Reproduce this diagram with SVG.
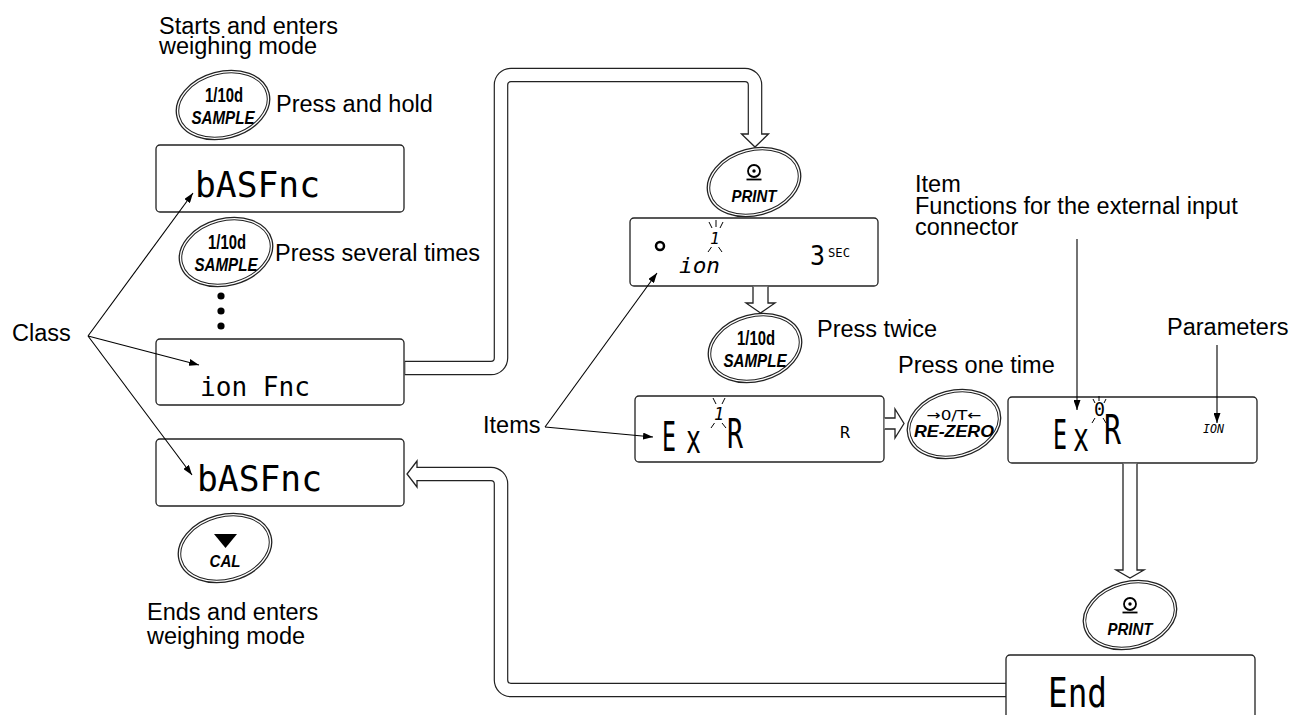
<svg xmlns="http://www.w3.org/2000/svg" width="1292" height="715" viewBox="0 0 1292 715">
<defs>
<style>
.t{font-family:"Liberation Sans",Arial,sans-serif;font-size:23.5px;fill:#000}
.b1{font-family:"Liberation Sans",Arial,sans-serif;font-size:19.5px;font-weight:bold;fill:#000}
.b2{font-family:"Liberation Sans",Arial,sans-serif;font-size:17px;font-weight:bold;font-style:italic;fill:#000}
.b4{font-family:"Liberation Sans",Arial,sans-serif;font-size:19px;font-weight:bold;font-style:italic;fill:#000}
.b3{font-family:"DejaVu Sans",sans-serif;font-size:14px;fill:#000}
.seg{font-family:"DejaVu Sans Mono",monospace;fill:#000}
.box{fill:#fff;stroke:#222;stroke-width:1.3}
.eo{fill:#fff;stroke:#222;stroke-width:1.3}
.ei{fill:none;stroke:#222;stroke-width:1}
.ln{fill:none;stroke:#000;stroke-width:1.1}
.pk{fill:none;stroke:#222;stroke-width:14.6}
.pw{fill:none;stroke:#fff;stroke-width:12.2}
.hd{fill:#fff;stroke:#222;stroke-width:1.3;stroke-linejoin:miter}
.ray{stroke:#000;stroke-width:1}
</style>
<marker id="ah" viewBox="0 0 10 7" refX="10" refY="3.5" markerWidth="10" markerHeight="7" markerUnits="userSpaceOnUse" orient="auto">
<path d="M0,0 L10,3.5 L0,7 z" fill="#000"/>
</marker>
<g id="btnshape" transform="rotate(-15)">
<ellipse rx="47.5" ry="33.5" class="eo"/>
<ellipse rx="45" ry="31" class="ei"/>
</g>
</defs>
<rect width="1292" height="715" fill="#fff"/>

<g id="labels">
<text class="t" x="159" y="34">Starts and enters</text>
<text class="t" x="159" y="54">weighing mode</text>
<text class="t" x="276" y="112">Press and hold</text>
<text class="t" x="275" y="261">Press several times</text>
<text class="t" x="12" y="341">Class</text>
<text class="t" x="147" y="620">Ends and enters</text>
<text class="t" x="147" y="644">weighing mode</text>
<text class="t" x="915" y="192">Item</text>
<text class="t" x="915" y="213.5">Functions for the external input</text>
<text class="t" x="915" y="235">connector</text>
<text class="t" x="817" y="337">Press twice</text>
<text class="t" x="898" y="373">Press one time</text>
<text class="t" x="1167" y="335">Parameters</text>
<text class="t" x="483" y="433">Items</text>
</g>

<g id="dots">
<circle cx="221" cy="296" r="3.6"/>
<circle cx="221" cy="311" r="3.6"/>
<circle cx="221" cy="326" r="3.6"/>
</g>

<g id="btn-sample-1" transform="translate(223,105)">
<use href="#btnshape"/>
<text class="b1" x="1" y="-3" text-anchor="middle" textLength="38" lengthAdjust="spacingAndGlyphs">1/10d</text>
<text class="b4" x="0" y="19" text-anchor="middle" textLength="63" lengthAdjust="spacingAndGlyphs">SAMPLE</text>
</g>
<g id="btn-sample-2" transform="translate(226,252)">
<use href="#btnshape"/>
<text class="b1" x="1" y="-3" text-anchor="middle" textLength="38" lengthAdjust="spacingAndGlyphs">1/10d</text>
<text class="b4" x="0" y="19" text-anchor="middle" textLength="63" lengthAdjust="spacingAndGlyphs">SAMPLE</text>
</g>
<g id="btn-sample-3" transform="translate(755,348)">
<use href="#btnshape"/>
<text class="b1" x="1" y="-3" text-anchor="middle" textLength="38" lengthAdjust="spacingAndGlyphs">1/10d</text>
<text class="b4" x="0" y="19" text-anchor="middle" textLength="63" lengthAdjust="spacingAndGlyphs">SAMPLE</text>
</g>
<g id="btn-print-1" transform="translate(754,182)">
<use href="#btnshape"/>
<circle cx="0" cy="-11" r="6" fill="none" stroke="#000" stroke-width="1.8"/>
<circle cx="0" cy="-11" r="1.7" fill="#000"/>
<line x1="-7.5" y1="-2.5" x2="7.5" y2="-2.5" stroke="#000" stroke-width="1.8"/>
<text class="b2" x="0" y="20" text-anchor="middle" textLength="45" lengthAdjust="spacingAndGlyphs">PRINT</text>
</g>
<g id="btn-rezero" transform="translate(954,424)">
<use href="#btnshape"/>
<text class="b3" x="0" y="-4" text-anchor="middle" textLength="55" lengthAdjust="spacingAndGlyphs">→0/T←</text>
<text class="b2" x="0" y="13" text-anchor="middle" textLength="80" lengthAdjust="spacingAndGlyphs">RE-ZERO</text>
</g>
<g id="btn-print-2" transform="translate(1130,615)">
<use href="#btnshape"/>
<circle cx="0" cy="-11" r="6" fill="none" stroke="#000" stroke-width="1.8"/>
<circle cx="0" cy="-11" r="1.7" fill="#000"/>
<line x1="-7.5" y1="-2.5" x2="7.5" y2="-2.5" stroke="#000" stroke-width="1.8"/>
<text class="b2" x="0" y="20" text-anchor="middle" textLength="45" lengthAdjust="spacingAndGlyphs">PRINT</text>
</g>
<g id="btn-cal" transform="translate(225,548)">
<use href="#btnshape"/>
<polygon points="-11,-14 12,-14 0.5,0" fill="#000"/>
<text class="b2" x="0" y="19" text-anchor="middle" textLength="31" lengthAdjust="spacingAndGlyphs">CAL</text>
</g>

<g id="disp-basfnc-1">
<rect class="box" x="156" y="145" width="248" height="67" rx="4"/>
<text class="seg" x="195" y="197" font-size="36" textLength="125" lengthAdjust="spacingAndGlyphs">bASFnc</text>
</g>
<g id="disp-ionfnc">
<rect class="box" x="156" y="339" width="248" height="66" rx="4"/>
<text class="seg" x="200" y="396" font-size="27" textLength="110" lengthAdjust="spacingAndGlyphs">ion Fnc</text>
</g>
<g id="disp-basfnc-2">
<rect class="box" x="156" y="439" width="248" height="67" rx="4"/>
<text class="seg" x="197" y="491" font-size="36" textLength="125" lengthAdjust="spacingAndGlyphs">bASFnc</text>
</g>
<g id="disp-ion">
<rect class="box" x="630" y="218" width="248" height="68" rx="4"/>
<circle cx="660" cy="246" r="4" fill="none" stroke="#000" stroke-width="2.5"/>
<text class="seg" x="679" y="273" font-size="21" font-style="italic" textLength="41" lengthAdjust="spacingAndGlyphs">ion</text>
<text class="seg" x="710" y="244" font-size="16" font-style="italic">1</text>
<g class="ray"><line x1="709" y1="222" x2="712" y2="228"/><line x1="716" y1="220" x2="716" y2="227"/><line x1="723" y1="222" x2="720" y2="228"/><line x1="708" y1="252" x2="711.5" y2="247"/><line x1="722" y1="252" x2="718.5" y2="247"/></g>
<text class="seg" x="810" y="265" font-size="26" textLength="15" lengthAdjust="spacingAndGlyphs">3</text>
<text class="seg" x="828" y="257" font-size="12" textLength="22" lengthAdjust="spacingAndGlyphs">SEC</text>
</g>
<g id="disp-exr-1">
<rect class="box" x="635" y="396" width="249" height="66" rx="4"/>
<text class="seg" x="662" y="451" font-size="40" textLength="14" lengthAdjust="spacingAndGlyphs">E</text>
<text class="seg" x="686" y="453" font-size="40" textLength="15" lengthAdjust="spacingAndGlyphs">x</text>
<text class="seg" x="714" y="420" font-size="18" font-style="italic" textLength="10" lengthAdjust="spacingAndGlyphs">1</text>
<g class="ray"><line x1="713" y1="398" x2="716" y2="404"/><line x1="725" y1="398" x2="722" y2="404"/><line x1="711" y1="428" x2="714.5" y2="423"/><line x1="726" y1="428" x2="722" y2="423"/></g>
<text class="seg" x="727" y="448" font-size="40" textLength="16" lengthAdjust="spacingAndGlyphs">R</text>
<text class="seg" x="840" y="438" font-size="15" textLength="10" lengthAdjust="spacingAndGlyphs">R</text>
</g>
<g id="disp-exr-2">
<rect class="box" x="1008" y="397" width="249" height="66" rx="4"/>
<text class="seg" x="1053" y="449" font-size="40" textLength="14" lengthAdjust="spacingAndGlyphs">E</text>
<text class="seg" x="1073" y="451" font-size="40" textLength="16" lengthAdjust="spacingAndGlyphs">x</text>
<text class="seg" x="1094" y="416" font-size="20" textLength="11" lengthAdjust="spacingAndGlyphs">0</text>
<g class="ray"><line x1="1099" y1="396" x2="1099" y2="401"/><line x1="1093" y1="399" x2="1095" y2="403"/><line x1="1106" y1="399" x2="1104" y2="403"/><line x1="1092" y1="423" x2="1095" y2="418"/><line x1="1106" y1="423" x2="1103" y2="418"/></g>
<text class="seg" x="1104" y="444" font-size="40" textLength="17" lengthAdjust="spacingAndGlyphs">R</text>
<text class="seg" x="1203" y="433" font-size="13" font-style="italic" textLength="21" lengthAdjust="spacingAndGlyphs">ION</text>
</g>
<g id="disp-end">
<rect class="box" x="1006" y="655" width="249" height="80" rx="4"/>
<text class="seg" x="1048" y="707" font-size="40" textLength="59" lengthAdjust="spacingAndGlyphs">End</text>
</g>

<g id="connectors">
<path class="pk" d="M404.6,368 H491 A10,10 0 0 0 501,358 V85 A10,10 0 0 1 511,75 H745 A10,10 0 0 1 755,85 V134"/>
<polygon class="hd" points="741.5,134 768.5,134 755,147"/>
<path class="pw" d="M405.3,368 H491 A10,10 0 0 0 501,358 V85 A10,10 0 0 1 511,75 H745 A10,10 0 0 1 755,85 V135.5"/>

<path class="pk" d="M1006,690 H511 A10,10 0 0 1 501,680 V484 A10,10 0 0 0 491,474 H417"/>
<polygon class="hd" points="417,461 417,487 407,474"/>
<path class="pw" d="M1005.3,690 H511 A10,10 0 0 1 501,680 V484 A10,10 0 0 0 491,474 H415.5"/>

<path class="hd" d="M753,286.7 V303 H746 L760.5,313 L775,303 H768 V286.7"/>
<path class="hd" d="M884.7,418 H895 V409 L904,423.5 L895,438 V429 H884.7"/>
<path class="hd" d="M1123,463.7 V570 H1116 L1130,578 L1144,570 H1137 V463.7"/>

<line class="ln" x1="88" y1="336" x2="193" y2="193" marker-end="url(#ah)"/>
<line class="ln" x1="88" y1="336" x2="199" y2="365" marker-end="url(#ah)"/>
<line class="ln" x1="88" y1="336" x2="192" y2="475" marker-end="url(#ah)"/>
<line class="ln" x1="545" y1="427" x2="657" y2="273" marker-end="url(#ah)"/>
<line class="ln" x1="545" y1="427" x2="653" y2="437" marker-end="url(#ah)"/>
<line class="ln" x1="1077" y1="239" x2="1077" y2="410" marker-end="url(#ah)"/>
<line class="ln" x1="1217" y1="345" x2="1217" y2="423" marker-end="url(#ah)"/>
</g>
</svg>
